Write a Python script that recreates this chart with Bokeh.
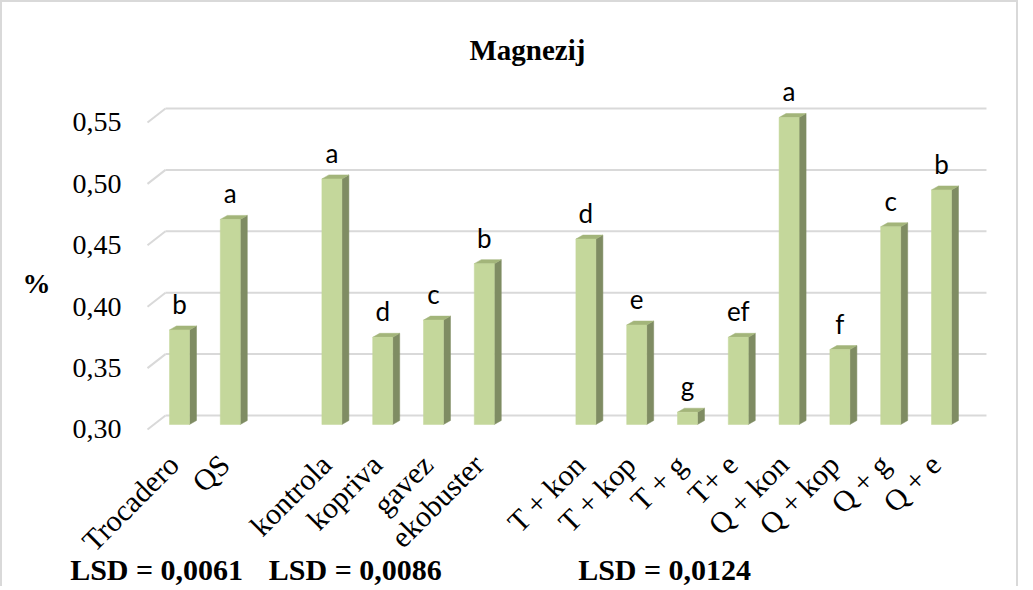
import math
from bokeh.plotting import figure
from bokeh.models import (FixedTicker, CustomJSTickFormatter, LinearAxis, Title,
                          ColumnDataSource, Range1d)
from bokeh.core.properties import value
from bokeh.embed import file_html
from bokeh.resources import INLINE

# ---------------- data ----------------
groups = [
    ["Trocadero", "QS"],
    ["kontrola", "kopriva", "gavez", "ekobuster"],
    ["T + kon", "T + kop", "T + g", "T+ e", "Q + kon", "Q + kop", "Q + g", "Q + e"],
]
values = [0.377, 0.467, 0.500, 0.371, 0.385, 0.431,
          0.451, 0.381, 0.310, 0.371, 0.550, 0.361, 0.461, 0.491]
letters = ["b", "a", "a", "d", "c", "b",
           "d", "e", "g", "ef", "a", "f", "c", "b"]
lsd_labels = ["LSD = 0,0061", "LSD = 0,0086", "LSD = 0,0124"]
y_ticks = [0.30, 0.35, 0.40, 0.45, 0.50, 0.55]
y_tick_labels = ["0,30", "0,35", "0,40", "0,45", "0,50", "0,55"]
title_text = "Magnezij"
y_unit = "%"

# ---------------- layout ----------------
categories = []
xs = []
slot = 0
for g in groups:
    for c in g:
        categories.append(c)
        xs.append(slot)
        slot += 1
    slot += 1  # gap between groups

base = 0.30
px_per_x = 50.8
px_per_y = 1228.0
bar_w = 20 / px_per_x
side_dx = 7 / px_per_x
top_dy = 4 / px_per_y
label_shift = 6 / px_per_x   # rotated labels end at the tick, like the original

lsd_x = [-0.45, 3.46, 9.55]
pct_y = 0.4148

Y0, Y1 = 0.29511, 0.58664
wall_shift = 5 / px_per_y    # tick labels sit on the front edge of the 3D wall

FRONT = "#c4d79b"
SIDE = "#7f8c63"
TOP = "#a3b57a"
GRID = "#d9d9d9"
SERIF = "Liberation Serif"

p = figure(width=1018, height=586,
           x_range=(-0.6693, 15.965), y_range=(Y0, Y1),
           output_backend="svg", toolbar_location=None,
           min_border_left=143, min_border_right=30,
           min_border_top=70, min_border_bottom=158)
p.extra_y_ranges = {"wall": Range1d(Y0 + wall_shift, Y1 + wall_shift)}
p.xgrid.visible = False
p.ygrid.visible = False
p.outline_line_color = None
p.background_fill_color = "white"
p.border_fill_color = "white"
p.styles = {"border-top": "2px solid #d9d9d9",
            "border-left": "2px solid #d9d9d9",
            "border-right": "2px solid #d9d9d9"}

# back-wall grid lines and perspective stubs
back_dy = 9 / px_per_y
front_dy = -5 / px_per_y
gx0 = (165 - 179) / px_per_x
gx1 = (986 - 179) / px_per_x
dx0 = (147 - 179) / px_per_x
p.segment(x0=[gx0] * len(y_ticks), y0=[t + back_dy for t in y_ticks],
          x1=[gx1] * len(y_ticks), y1=[t + back_dy for t in y_ticks],
          line_color=GRID, line_width=2)
p.segment(x0=[dx0] * len(y_ticks), y0=[t + front_dy for t in y_ticks],
          x1=[gx0] * len(y_ticks), y1=[t + back_dy for t in y_ticks],
          line_color=GRID, line_width=2)

# 3D bars: side, top, front
side_xs, side_ys, top_xs, top_ys = [], [], [], []
for x, v in zip(xs, values):
    r = x + bar_w / 2
    l = x - bar_w / 2
    side_xs.append([r, r + side_dx, r + side_dx, r])
    side_ys.append([base, base + top_dy, v + top_dy, v])
    top_xs.append([l, r, r + side_dx, l + side_dx])
    top_ys.append([v, v, v + top_dy, v + top_dy])
p.patches(xs=side_xs, ys=side_ys, fill_color=SIDE, line_color=SIDE, line_width=0.5)
p.patches(xs=top_xs, ys=top_ys, fill_color=TOP, line_color=TOP, line_width=0.5)
label_y = [v + 26 / px_per_y for v in values]
src = ColumnDataSource(dict(x=xs, top=values, ly=label_y, letter=letters))
p.vbar(x="x", top="top", bottom=base, width=bar_w, source=src,
       fill_color=FRONT, line_color=FRONT, line_width=0.5)

# significance letters
p.text(x="x", y="ly", text="letter", source=src, text_align="center",
       text_baseline="alphabetic",
       text_font=value("Lato"), text_font_size="26px", text_color="black")

# y axis
ya = p.yaxis[0]
ya.y_range_name = "wall"
ya.ticker = FixedTicker(ticks=y_ticks)
ya.formatter = CustomJSTickFormatter(args=dict(labels=y_tick_labels),
                                     code="return labels[index];")
ya.axis_line_color = None
ya.major_tick_line_color = None
ya.minor_tick_line_color = None
ya.major_label_standoff = 18
ya.major_label_text_font = SERIF
ya.major_label_text_font_size = "28px"
ya.major_label_text_color = "black"

pa = LinearAxis(ticker=FixedTicker(ticks=[pct_y]),
                formatter=CustomJSTickFormatter(args=dict(u=y_unit), code="return u;"),
                axis_line_color=None, major_tick_line_color=None,
                minor_tick_line_color=None, major_label_standoff=13,
                major_label_text_font=SERIF, major_label_text_font_size="28px",
                major_label_text_font_style="bold", major_label_text_color="black")
p.add_layout(pa, "left")

# x axis
xa = p.xaxis[0]
xa.ticker = FixedTicker(ticks=[x - label_shift for x in xs])
xa.formatter = CustomJSTickFormatter(args=dict(labels=categories),
                                     code="return labels[index];")
xa.axis_line_color = None
xa.major_tick_line_color = None
xa.minor_tick_line_color = None
xa.major_label_orientation = math.pi / 4
xa.major_label_standoff = 23
xa.major_label_text_font = SERIF
xa.major_label_text_font_size = "30px"
xa.major_label_text_color = "black"

la = LinearAxis(ticker=FixedTicker(ticks=lsd_x),
                formatter=CustomJSTickFormatter(args=dict(labels=lsd_labels),
                                                code="return labels[index];"),
                axis_line_color=None, major_tick_line_color=None,
                minor_tick_line_color=None, major_label_standoff=-26,
                major_label_text_font=SERIF, major_label_text_font_size="30px",
                major_label_text_font_style="bold", major_label_text_color="black")
p.add_layout(la, "below")

p.add_layout(Title(text=title_text, align="left", offset=324, standoff=13,
                   text_font=SERIF, text_font_size="29px",
                   text_font_style="bold", text_color="black"), "above")

open("out.html", "w").write(file_html(p, INLINE))
